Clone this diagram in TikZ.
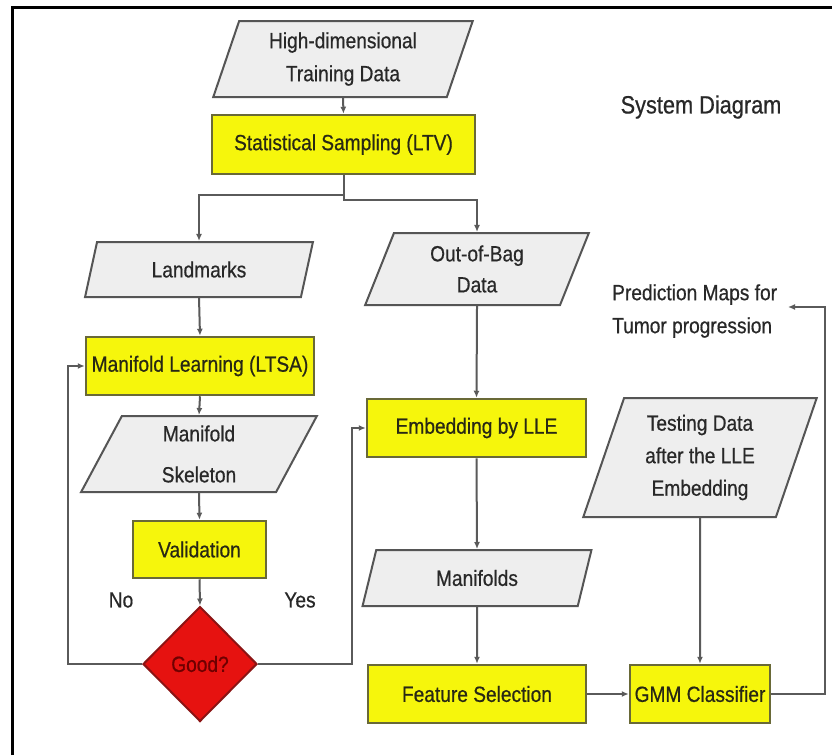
\documentclass[tikz,border=0pt]{standalone}
\usepackage{fontspec}
\setmainfont[FakeStretch=0.87,FakeBold=0.6]{Liberation Sans}
\usetikzlibrary{shapes.geometric,arrows.meta,calc}
\definecolor{yfill}{RGB}{246,246,12}
\definecolor{ydraw}{RGB}{105,105,55}
\definecolor{ytext}{RGB}{40,40,20}
\definecolor{pfill}{RGB}{238,238,238}
\definecolor{pdraw}{RGB}{85,85,85}
\definecolor{rfill}{RGB}{230,18,16}
\definecolor{rdraw}{RGB}{140,20,20}
\definecolor{rtext}{RGB}{110,0,0}
\definecolor{lcol}{RGB}{90,90,90}
\definecolor{tcol}{RGB}{40,40,40}
\begin{document}
\begin{tikzpicture}[x=1pt,y=-1pt,
  txt/.style={font=\fontsize{22}{33}\selectfont, text=tcol, align=center},
  ybox/.style={txt, rectangle, draw=ydraw, fill=yfill, line width=2.5pt, inner sep=0pt, text=ytext},
  pbox/.style={txt, trapezium, trapezium left angle=71, trapezium right angle=109, trapezium stretches=true, draw=pdraw, fill=pfill, line width=2pt, inner sep=0pt},
  diam/.style={txt, diamond, aspect=1, draw=rdraw, fill=rfill, line width=2pt, inner sep=0pt, minimum width=114pt, minimum height=115pt, text=rtext},
  conn/.style={draw=lcol, line width=2pt},
  arr/.style={conn, -{Latex[length=7pt,width=6pt]}}]
\useasboundingbox (0,0) rectangle (832,755);
\fill[white] (0,0) rectangle (832,755);
\draw[line width=3pt, black] (12,755) -- (12,7) -- (832,7);

\node[pbox, minimum width=260pt, minimum height=76pt] (hd) at (343,59) {High-dimensional\\Training Data};
\node[ybox, minimum width=263pt, minimum height=59pt] (ss) at (343.5,144.5) {Statistical Sampling (LTV)};
\node[txt, font=\fontsize{25}{30}\selectfont] (title) at (701,107) {System Diagram};
\node[pbox, minimum width=228pt, minimum height=55pt] (lm) at (199,269.5) {Landmarks};
\node[pbox, minimum width=224pt, minimum height=72pt, font=\fontsize{22}{31}\selectfont] (oob) at (477,269) {Out-of-Bag\\Data};
\node[ybox, minimum width=228pt, minimum height=58pt] (ml) at (200,366) {Manifold Learning (LTSA)};
\node[pbox, minimum width=236pt, minimum height=76pt, font=\fontsize{22}{41}\selectfont] (sk) at (199,454) {Manifold\\Skeleton};
\node[ybox, minimum width=133pt, minimum height=57pt] (val) at (199.5,549.5) {Validation};
\node[diam] (good) at (200,664) {Good?};
\node[txt] (no) at (121,600) {No};
\node[txt] (yes) at (300,600) {Yes};
\node[ybox, minimum width=219pt, minimum height=58pt] (emb) at (476.5,428) {Embedding by LLE};
\node[pbox, minimum width=230pt, minimum height=56pt] (mf) at (477,578) {Manifolds};
\node[ybox, minimum width=218pt, minimum height=58pt] (fs) at (477,694) {Feature Selection};
\node[ybox, minimum width=140pt, minimum height=58pt] (gmm) at (700,694) {GMM Classifier};
\node[pbox, minimum width=234pt, minimum height=119pt, font=\fontsize{22}{32.5}\selectfont] (test) at (700,457.5) {Testing Data\\after the LLE\\Embedding};
\node[txt, align=left, anchor=west, inner sep=0pt] (pred) at (612,311) {Prediction Maps for\\Tumor progression};

\coordinate (loopL) at (68,366);
\coordinate (loopY) at (352,428);
\coordinate (predin) at (788,307);
\coordinate (loopR) at (825,307);

\draw[arr] (hd.south) -- (ss.north);
\draw[arr] (ss.south) -- ++(0,25) -| (oob.north);
\draw[arr] ($(ss.south)+(0,20)$) -| (lm.north);
\draw[arr] (lm.south) -- (ml.north);
\draw[arr] (ml.south) -- (sk.north);
\draw[arr] (sk.south) -- (val.north);
\draw[arr] (val.south) -- (good.north);
\draw[arr] (good.west) -| (loopL) -- (ml.west);
\draw[arr] (good.east) -| (loopY) -- (emb.west);
\draw[arr] (oob.south) -- (emb.north);
\draw[arr] (emb.south) -- (mf.north);
\draw[arr] (mf.south) -- (fs.north);
\draw[arr] (fs.east) -- (gmm.west);
\draw[arr] (test.south) -- (gmm.north);
\draw[arr] (gmm.east) -| (loopR) -- (predin);
\end{tikzpicture}
\end{document}
